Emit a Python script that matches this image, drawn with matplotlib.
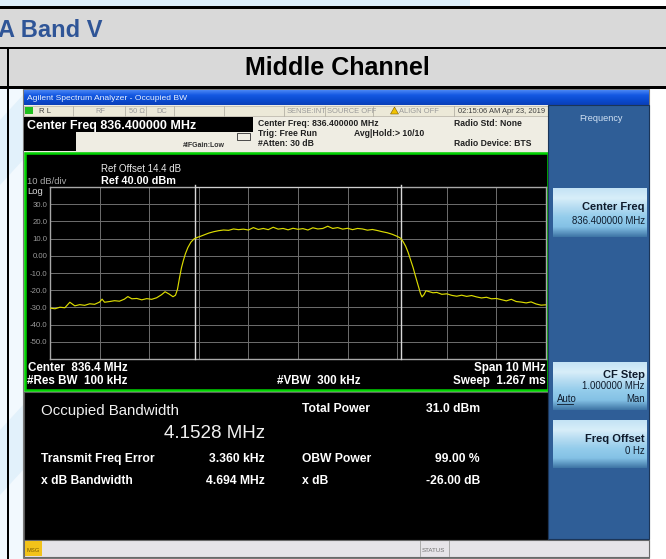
import numpy as np
import matplotlib.pyplot as plt
from matplotlib.patches import Rectangle, Polygon
from matplotlib.colors import LinearSegmentedColormap

plt.rcParams['font.family'] = ['Liberation Sans', 'DejaVu Sans']

# trace
freq_mhz = [831.40, 831.50, 831.60, 831.70, 831.80, 831.90, 832.00, 832.10, 832.20, 832.30,
            832.40, 832.45, 832.50, 832.60, 832.70, 832.80, 832.90, 832.97, 833.05, 833.15,
            833.25, 833.35, 833.45, 833.55, 833.65, 833.72, 833.80, 833.88, 833.93, 833.97,
            834.01, 834.05, 834.09, 834.13, 834.18, 834.24, 834.30, 834.36, 834.44, 834.52,
            834.60, 834.70, 834.80, 834.90, 835.00, 835.10, 835.20, 835.30, 835.40, 835.50,
            835.60, 835.70, 835.80, 835.90, 836.00, 836.10, 836.20, 836.30, 836.40, 836.50,
            836.60, 836.70, 836.80, 836.90, 837.00, 837.10, 837.20, 837.30, 837.40, 837.50,
            837.60, 837.70, 837.80, 837.90, 838.00, 838.10, 838.20, 838.30, 838.40, 838.47,
            838.52, 838.57, 838.62, 838.67, 838.72, 838.77, 838.82, 838.87, 838.90, 838.94,
            838.98, 839.05, 839.12, 839.20, 839.30, 839.40, 839.50, 839.60, 839.70, 839.80,
            839.90, 840.00, 840.10, 840.20, 840.30, 840.40, 840.50, 840.60, 840.70, 840.80,
            840.90, 841.00, 841.10, 841.20, 841.30, 841.40]
level_dbm = [-30.4, -30.8, -29.9, -30.2, -27.0, -29.1, -28.4, -28.8, -27.9, -28.2,
             -26.9, -25.2, -27.0, -26.6, -26.1, -26.4, -25.2, -23.7, -25.0, -24.8,
             -25.6, -24.9, -25.3, -24.4, -22.6, -20.9, -22.2, -23.8, -22.9, -19.5,
             -13.0, -7.0, -2.6, 1.2, 4.8, 7.9, 9.7, 10.6, 11.4, 12.3,
             13.2, 14.0, 14.6, 15.0, 14.8, 15.6, 15.2, 15.5, 15.0, 16.4,
             15.3, 15.9, 15.2, 16.6, 15.5, 15.9, 15.1, 16.0, 15.4, 15.8,
             15.0, 16.3, 15.6, 15.9, 17.2, 15.9, 16.4, 15.5, 16.0, 15.2,
             15.9, 15.6, 14.9, 15.3, 14.7, 14.0, 13.4, 12.5, 11.3, 10.2,
             8.2, 5.6, 2.0, -2.4, -6.8, -12.0, -17.0, -22.0, -23.9, -22.6,
             -20.3, -20.9, -21.5, -21.3, -22.4, -22.1, -23.0, -23.5, -22.9, -23.6,
             -23.1, -23.9, -24.5, -24.1, -25.0, -24.8, -25.5, -26.2, -25.3, -26.6,
             -26.9, -27.4, -26.8, -28.0, -28.7, -28.5]

center_mhz = 836.4
span_mhz = 10.0
ref_level = 40.0
obw_mhz = 4.1528
freq_error_khz = 3.360
y_ticks = [-60, -50, -40, -30, -20, -10, 0, 10, 20, 30, 40]
y_tick_labels = ['', '-50.0', '-40.0', '-30.0', '-20.0', '-10.0', '0.00', '10.0', '20.0', '30.0', '']

result_names_left = ['Transmit Freq Error', 'x dB Bandwidth']
result_values_left = ['3.360 kHz', '4.694 MHz']
result_names_right = ['Total Power', 'OBW Power', 'x dB']
result_values_right = ['31.0 dBm', '99.00 %', '-26.00 dB']

W, H = 666, 559
fig = plt.figure(figsize=(W / 100, H / 100), dpi=100)
bg = fig.add_axes([0, 0, 1, 1])
bg.axis('off')


def box(x0, y0, x1, y1, fc, ec='none', lw=0, z=1):
    bg.add_patch(Rectangle((x0, y0), x1 - x0, y1 - y0, facecolor=fc,
                           edgecolor=ec, linewidth=lw, zorder=z))


def label(x, y, s, size, color='white', weight='normal', ha='left', z=6):
    bg.text(x, y, s, fontsize=size, color=color, fontweight=weight,
            ha=ha, va='baseline', zorder=z)


def vgrad(x0, y0, x1, y1, colors, z=2):
    cmap = LinearSegmentedColormap.from_list('g', colors)
    bg.imshow(np.linspace(0, 1, 64).reshape(-1, 1), cmap=cmap, aspect='auto',
              extent=(x0, x1, y1, y0), zorder=z, interpolation='bilinear')


# document table around the screenshot
box(0, 0, 470, 7, '#DDEFFB')
box(0, 88, 23, H, '#F2F9FE')
bg.add_patch(Polygon([(0, 120), (23, 95), (23, 160), (0, 185)], facecolor='#E2F1FB', lw=0, zorder=1))
bg.add_patch(Polygon([(0, 430), (23, 405), (23, 470), (0, 495)], facecolor='#E2F1FB', lw=0, zorder=1))
box(0, 7, W, 87, '#D9D9D9')
box(0, 6, W, 8.5, 'black', z=3)
box(0, 46.5, W, 48.5, 'black', z=3)
box(0, 86, W, 88.5, 'black', z=3)
box(6.8, 47, 8.8, H, 'black', z=3)
label(-2, 37, 'A Band V', 17, color='#2F5597', weight='bold')
label(337, 75, 'Middle Channel', 18, color='black', weight='bold', ha='center')

# analyzer window frame
box(23, 89, 649, 558, '#D4D0C8', ec='#7A7A7A', lw=0.8)
vgrad(24, 90, 649, 105, ['#4A86F5', '#1459E2', '#0B4BD0', '#0A3FB8'])
label(27, 100, 'Agilent Spectrum Analyzer - Occupied BW', 6.1, color='#E8F0FF')

# header strip
box(24, 105, 548, 152, '#EFEDE3', z=2)
box(24, 105.5, 548, 116, '#ECE9D8', ec='#B5B1A5', lw=0.5, z=2)
for sx in [73, 125, 146, 174, 224, 283.5, 324.7, 373, 454]:
    bg.plot([sx, sx], [105.5, 116], color='#B5B1A5', lw=0.6, zorder=3)
box(25, 107, 33, 114, '#1FBF1F', z=4)
label(39, 113, 'R L', 5.6, color='#404040')
label(95, 113, 'RF', 5.4, color='#9A9A9A')
label(129, 113, '50 \u03a9', 5.4, color='#9A9A9A')
label(156, 113, 'DC', 5.4, color='#9A9A9A')
label(287, 113, 'SENSE:INT', 5.4, color='#9A9A9A')
label(327, 113, 'SOURCE OFF', 5.4, color='#9A9A9A')
bg.add_patch(Polygon([(390.5, 114), (394.5, 107), (398.5, 114)], facecolor='#F2C200',
                     edgecolor='#7A5C00', lw=0.4, zorder=4))
label(399, 113, 'ALIGN OFF', 5.4, color='#9A9A9A')
label(458, 113, '02:15:06 AM Apr 23, 2019', 5.4, color='#404040')
box(24, 116.5, 253, 132, 'black', z=3)
box(24, 132, 76, 150.5, 'black', z=3)
label(27, 129, 'Center Freq 836.400000 MHz', 9, weight='bold')
label(183, 147, '#IFGain:Low', 5.0, color='#303030', weight='bold')
bg.add_patch(Rectangle((237, 132.5), 13, 7, facecolor='none', edgecolor='#303030', lw=0.6, zorder=4))
label(258, 125.5, 'Center Freq: 836.400000 MHz', 6.2, color='#202020', weight='bold')
label(258, 136.3, 'Trig: Free Run', 6.2, color='#202020', weight='bold')
label(354, 136.3, 'Avg|Hold:> 10/10', 6.2, color='#202020', weight='bold')
label(258, 146, '#Atten: 30 dB', 6.2, color='#202020', weight='bold')
label(454, 125.5, 'Radio Std: None', 6.2, color='#202020', weight='bold')
label(454, 146, 'Radio Device: BTS', 6.2, color='#202020', weight='bold')

# green trace window
box(25, 153, 548, 390, 'black', ec='#00D400', lw=1.8, z=3)
label(101, 172.3, 'Ref Offset 14.4 dB', 7, color='#E8E8E8')
label(101, 183.7, 'Ref 40.00 dBm', 7.8, weight='bold')
label(27, 183.7, '10 dB/div', 6.8, color='#A8A8A8')
label(27, 194, 'Log', 6.8, color='#D8D8D8')
label(28, 371, 'Center  836.4 MHz', 8.4, weight='bold')
label(27, 384, '#Res BW  100 kHz', 8.4, weight='bold')
label(277, 384, '#VBW  300 kHz', 8.4, weight='bold')
label(546, 371, 'Span 10 MHz', 8.4, weight='bold', ha='right')
label(546, 384, 'Sweep  1.267 ms', 8.4, weight='bold', ha='right')

# results window
box(24, 392, 548, 540, 'black', ec='#5A5A5A', lw=0.8, z=3)
label(41, 415.3, 'Occupied Bandwidth', 10.8, color='#F0F0F0')
label(265, 438.3, '%.4f MHz' % obw_mhz, 13.5, color='#F0F0F0', ha='right')
for i, (name, val) in enumerate(zip(result_names_left, result_values_left)):
    label(41, 461.6 + 22 * i, name, 8.7, weight='bold')
    label(265, 461.6 + 22 * i, val, 8.7, weight='bold', ha='right')
for i, (name, val) in enumerate(zip(result_names_right, result_values_right)):
    yb = [412, 461.6, 483.6][i]
    label(302, yb, name, 8.7, weight='bold')
    label(480, yb, val, 8.7, weight='bold', ha='right')

# status bar
box(24, 540, 649, 557, '#E6E4E8', ec='#6A6A6A', lw=0.8, z=3)
box(25, 541, 42, 556, '#F2C21A', z=4)
label(26.5, 551.5, 'MSG', 4.2, color='#7A5A00')
bg.plot([420, 420], [541, 556], color='#A0A0A0', lw=0.6, zorder=4)
bg.plot([449, 449], [541, 556], color='#A0A0A0', lw=0.6, zorder=4)
label(422, 551.5, 'STATUS', 4.4, color='#707070')

# soft key panel
box(548, 105, 649, 539, '#2F5E97', ec='#1B3558', lw=0.8, z=3)
label(601, 120.7, 'Frequency', 6.6, color='#D2E2F4', ha='center')
btn_colors = ['#C4E3F5', '#D8EEF9', '#B4DBF1', '#93CCEB', '#84C1E5', '#3F76A6']
for y0, y1 in [(188, 237), (362, 410), (420, 468)]:
    vgrad(553, y0, 647, y1, btn_colors, z=4)
label(645, 210, 'Center Freq', 8, color='#0E1A2B', weight='bold', ha='right')
label(645, 224, '836.400000 MHz', 6.9, color='#0E1A2B', ha='right')
label(645, 378.3, 'CF Step', 8, color='#0E1A2B', weight='bold', ha='right')
label(645, 389, '1.000000 MHz', 6.9, color='#0E1A2B', ha='right')
label(557, 402.3, 'Auto', 6.9, color='#0E1A2B')
bg.plot([557, 573], [404, 404], color='#0E1A2B', lw=0.6, zorder=6)
label(645, 402.3, 'Man', 6.9, color='#0E1A2B', ha='right')
label(645, 441.7, 'Freq Offset', 8, color='#0E1A2B', weight='bold', ha='right')
label(645, 454, '0 Hz', 6.9, color='#0E1A2B', ha='right')

bg.set_xlim(0, W)
bg.set_ylim(H, 0)

# spectrum graticule and trace
ax = fig.add_axes([50 / W, 1 - 359 / H, 496 / W, 172 / H])
ax.set_facecolor('black')
ax.set_axisbelow(True)
f0 = center_mhz - span_mhz / 2
ax.set_xlim(f0, f0 + span_mhz)
ax.set_ylim(ref_level - 100, ref_level)
ax.set_xticks(np.linspace(f0, f0 + span_mhz, 11))
ax.set_xticklabels([])
ax.set_yticks(y_ticks)
ax.set_yticklabels(y_tick_labels)
ax.tick_params(length=0, labelsize=5.6, labelcolor='#9A9A9A', pad=2)
ax.grid(color='#6E6E6E', lw=0.7)
for s in ax.spines.values():
    s.set_color('#A8A8A8')
    s.set_linewidth(1.0)

lo = center_mhz + freq_error_khz / 1000 - obw_mhz / 2
hi = lo + obw_mhz
for m in (lo, hi):
    ax.axvline(m, ymin=0, ymax=1.01, color='#D8D8D8', lw=1.0, clip_on=False, zorder=3)
ax.hlines(ref_level, lo, hi, color='#D8D8D8', lw=1.2, zorder=3)
ax.plot(freq_mhz, level_dbm, color='#DCDC00', lw=0.85, zorder=4)

fig.savefig('out.png', dpi=100)
